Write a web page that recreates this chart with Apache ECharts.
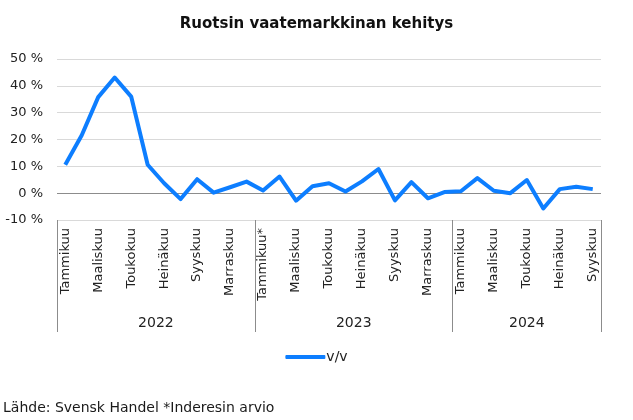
<!DOCTYPE html>
<html>
<head>
<meta charset="utf-8">
<script src="https://cdn.jsdelivr.net/npm/echarts@6/dist/echarts.min.js"></script>
<style>
html,body{margin:0;padding:0;background:#fff;}
#c{width:633px;height:420px;}
</style>
</head>
<body>
<div id="c"></div>
<script>
// ---- data ----
const months = [
  'Tammikuu','Helmikuu','Maaliskuu','Huhtikuu','Toukokuu','Kesäkuu','Heinäkuu','Elokuu','Syyskuu','Lokakuu','Marraskuu','Joulukuu',
  'Tammikuu*','Helmikuu','Maaliskuu','Huhtikuu','Toukokuu','Kesäkuu','Heinäkuu','Elokuu','Syyskuu','Lokakuu','Marraskuu','Joulukuu',
  'Tammikuu','Helmikuu','Maaliskuu','Huhtikuu','Toukokuu','Kesäkuu','Heinäkuu','Elokuu','Syyskuu'
];
const years = ['2022', '2023', '2024'];
const yearMonthCounts = [12, 12, 9];
const yoy = [10.6, 21.6, 35.8, 43.1, 36.0, 10.6, 3.7, -2.2, 5.2, 0.2, 2.2, 4.3,
             1.0, 6.2, -2.8, 2.6, 3.7, 0.6, 4.4, 9.0, -2.7, 4.1, -1.9, 0.4,
             0.7, 5.6, 0.9, 0.0, 4.9, -5.7, 1.5, 2.4, 1.5];
const yTicks = [-10, 0, 10, 20, 30, 40, 50];
const seriesName = 'v/v';
const titleText = 'Ruotsin vaatemarkkinan kehitys';
const sourceText = 'Lähde: Svensk Handel *Inderesin arvio';

// derived group boundaries / centers
const yearStarts = [];
const yearCenters = [];
let acc = 0;
yearMonthCounts.forEach(n => { yearStarts.push(acc); yearCenters.push(acc + n / 2); acc += n; });

const FONT = '"DejaVu Sans", sans-serif';
const LINE_COLOR = '#0d7eff';
const chart = echarts.init(document.getElementById('c'), null, {renderer: 'canvas'});
const gridColors = yTicks.map(v => v === 0 ? '#8c8c8c' : '#d9d9d9');

chart.setOption({
  animation: false,
  backgroundColor: '#ffffff',
  textStyle: {fontFamily: FONT},
  title: {
    text: titleText,
    left: 'center',
    top: 12,
    textStyle: {fontSize: 15, fontWeight: 'bold', color: '#111', fontFamily: FONT}
  },
  graphic: [{
    type: 'text', left: 3, top: 401,
    style: {text: sourceText, font: '14px ' + FONT, fill: '#1a1a1a'}
  }],
  legend: {
    data: [seriesName],
    bottom: 51,
    left: 'center',
    icon: 'roundRect',
    itemWidth: 40,
    itemHeight: 4,
    itemGap: 10,
    textStyle: {fontSize: 14, color: '#222', fontFamily: FONT, padding: [0, 0, 0, -4]}
  },
  grid: {left: 57, right: 32, top: 59, bottom: 200, containLabel: false, outerBoundsMode: 'none'},
  xAxis: [{
    type: 'category',
    data: months,
    boundaryGap: true,
    position: 'bottom',
    axisLine: {show: false, onZero: false},
    axisTick: {
      show: true,
      length: 112,
      interval: (i) => yearStarts.indexOf(i) >= 0,
      lineStyle: {color: '#8c8c8c', width: 1}
    },
    axisLabel: {
      show: true,
      interval: 1,
      rotate: 90,
      margin: 8,
      fontSize: 13,
      color: '#222',
      fontFamily: FONT
    },
    splitLine: {show: false}
  }, {
    type: 'value',
    min: 0,
    max: months.length,
    position: 'bottom',
    axisLine: {show: false, onZero: false},
    axisTick: {show: false},
    splitLine: {show: false},
    axisLabel: {
      show: true,
      customValues: yearCenters,
      margin: 96,
      fontSize: 14,
      color: '#222',
      fontFamily: FONT,
      formatter: (v) => {
        const k = yearCenters.indexOf(v);
        return k >= 0 ? years[k] : '';
      }
    }
  }],
  yAxis: {
    type: 'value',
    min: yTicks[0],
    max: yTicks[yTicks.length - 1],
    interval: 10,
    axisLine: {show: false},
    axisTick: {show: false},
    axisLabel: {formatter: '{value} %', fontSize: 13, color: '#222', margin: 14, fontFamily: FONT},
    splitLine: {show: true, lineStyle: {color: gridColors, width: 1}}
  },
  series: [{
    name: seriesName,
    type: 'line',
    xAxisIndex: 0,
    data: yoy,
    symbol: 'none',
    smooth: false,
    lineStyle: {color: LINE_COLOR, width: 4, join: 'round'},
    itemStyle: {color: LINE_COLOR}
  }]
});
</script>
</body>
</html>
